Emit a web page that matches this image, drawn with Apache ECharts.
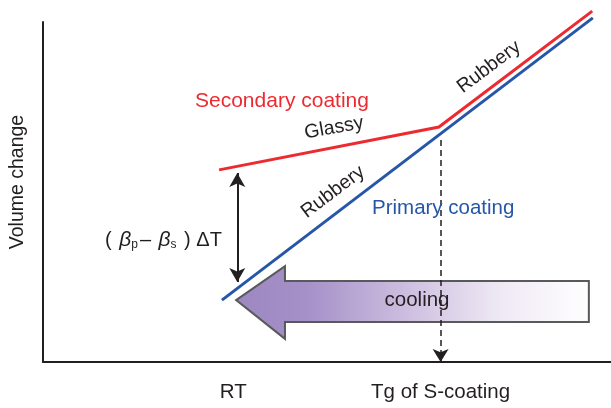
<!DOCTYPE html>
<html>
<head>
<meta charset="utf-8">
<script src="https://cdn.jsdelivr.net/npm/echarts@6/dist/echarts.min.js"></script>
<style>
  html, body { margin: 0; padding: 0; background: #fff; }
  #chart { width: 611px; height: 408px; }
</style>
</head>
<body>
<div id="chart"></div>
<script>
// values, in arbitrary axis units (x: 0-100, y: 0-100)
const xTicks = [33.5, 70];
const xTickLabels = ['RT', 'Tg of S-coating'];

const secondaryX = [31.0, 69.7, 96.7];
const secondaryY = [56.5, 69.1, 103.2];

const primaryX = [31.5, 96.8];
const primaryY = [18.2, 101.2];

const tgDropX = [70, 70];
const tgDropY = [65.3, 0];

const gapX = [34.2, 34.2];
const gapY = [55.6, 23.5];

const coolingX = [34.0, 42.6, 42.6, 96.1, 96.1, 42.6, 42.6];
const coolingY = [18.2, 28.2, 23.8, 23.8, 11.8, 11.8, 6.8];

const RED = '#ec2a30';
const BLUE = '#2656a7';
const INK = '#231f20';
const FONT = '"Liberation Sans", Arial, sans-serif';

const chart = echarts.init(document.getElementById('chart'), null, { renderer: 'canvas' });

const zip = (xs, ys) => xs.map((x, i) => [x, ys[i]]);
const deg = (d) => (d * Math.PI) / 180;

const option = {
  animation: false,
  backgroundColor: '#fff',
  grid: { left: 43, right: 0, top: 22, bottom: 46 },
  xAxis: {
    type: 'value',
    min: 0,
    max: 100,
    axisLine: { show: true, onZero: false, lineStyle: { color: INK, width: 2 } },
    axisTick: { show: false },
    splitLine: { show: false },
    axisLabel: {
      customValues: xTicks,
      formatter: (v) => xTickLabels[xTicks.indexOf(v)] || '',
      color: INK,
      fontSize: 20.5,
      fontFamily: FONT,
      margin: 20
    }
  },
  yAxis: {
    type: 'value',
    min: 0,
    max: 100,
    name: 'Volume change',
    nameLocation: 'middle',
    nameRotate: 90,
    nameGap: 15,
    nameTextStyle: { color: INK, fontSize: 19.5, fontFamily: FONT, padding: [0, 0, 0, 20] },
    axisLine: { show: true, onZero: false, lineStyle: { color: INK, width: 2 } },
    axisTick: { show: false },
    axisLabel: { show: false },
    splitLine: { show: false }
  },
  series: [
    {
      name: 'cooling',
      type: 'custom',
      data: [0],
      renderItem: (params, api) => ({
        type: 'polygon',
        shape: { points: zip(coolingX, coolingY).map((p) => api.coord(p)) },
        style: {
          fill: new echarts.graphic.LinearGradient(0, 0, 1, 0, [
            { offset: 0, color: '#9c87c0' },
            { offset: 0.2, color: '#a590c8' },
            { offset: 0.5, color: '#cfc1e1' },
            { offset: 0.75, color: '#efe9f4' },
            { offset: 1, color: '#ffffff' }
          ]),
          stroke: '#58595b',
          lineWidth: 2
        }
      }),
      z: 1
    },
    {
      name: 'Secondary coating',
      type: 'line',
      data: zip(secondaryX, secondaryY),
      symbol: 'none',
      clip: false,
      lineStyle: { color: RED, width: 3, join: 'miter', cap: 'butt' },
      z: 3
    },
    {
      name: 'Primary coating',
      type: 'line',
      data: zip(primaryX, primaryY),
      symbol: 'none',
      clip: false,
      lineStyle: { color: BLUE, width: 3, cap: 'butt' },
      z: 3
    },
    {
      name: 'guides',
      type: 'line',
      data: [],
      markLine: {
        silent: true,
        animation: false,
        label: { show: false },
        data: [
          [
            { coord: [tgDropX[0], tgDropY[0]], symbol: 'none' },
            {
              coord: [tgDropX[1], tgDropY[1]],
              symbol: 'arrow',
              symbolSize: [12, 13],
              lineStyle: { color: INK, width: 1.5, type: [6, 4] }
            }
          ],
          [
            { coord: [gapX[0], gapY[0]], symbol: 'arrow', symbolSize: [12, 14] },
            {
              coord: [gapX[1], gapY[1]],
              symbol: 'arrow',
              symbolSize: [12, 14],
              lineStyle: { color: INK, width: 2, type: 'solid' }
            }
          ]
        ]
      },
      z: 2
    }
  ],
  graphic: [
    {
      type: 'text', x: 195, y: 101, z: 10,
      style: { text: 'Secondary coating', fill: RED, fontSize: 21, fontFamily: FONT, verticalAlign: 'middle' }
    },
    {
      type: 'text', x: 334, y: 128, z: 10, rotation: deg(10),
      style: { text: 'Glassy', fill: INK, fontSize: 19.5, fontFamily: FONT, align: 'center', verticalAlign: 'middle' }
    },
    {
      type: 'text', x: 333, y: 192, z: 10, rotation: deg(37),
      style: { text: 'Rubbery', fill: INK, fontSize: 19.5, fontFamily: FONT, align: 'center', verticalAlign: 'middle' }
    },
    {
      type: 'text', x: 489, y: 67, z: 10, rotation: deg(37),
      style: { text: 'Rubbery', fill: INK, fontSize: 19.5, fontFamily: FONT, align: 'center', verticalAlign: 'middle' }
    },
    {
      type: 'text', x: 372, y: 208, z: 10,
      style: { text: 'Primary coating', fill: BLUE, fontSize: 20.5, fontFamily: FONT, verticalAlign: 'middle' }
    },
    {
      type: 'text', x: 417, y: 300, z: 10,
      style: { text: 'cooling', fill: INK, fontSize: 20.5, fontFamily: FONT, align: 'center', verticalAlign: 'middle' }
    },
    {
      type: 'text', x: 105, y: 240, z: 10,
      style: {
        text: '( {b|β}{sub|p}– {b|β}{sub|s} ) ΔT',
        fill: INK,
        fontSize: 20,
        fontFamily: FONT,
        verticalAlign: 'middle',
        rich: {
          b: { fontSize: 21, fontStyle: 'italic', fontFamily: FONT, fill: INK, padding: [0, 0, 0, 2] },
          sub: { fontSize: 12, fontFamily: FONT, fill: INK, verticalAlign: 'bottom', padding: [8, 2, 0, 0] }
        }
      }
    }
  ]
};

chart.setOption(option);
window.addEventListener('resize', () => chart.resize());
</script>
</body>
</html>
